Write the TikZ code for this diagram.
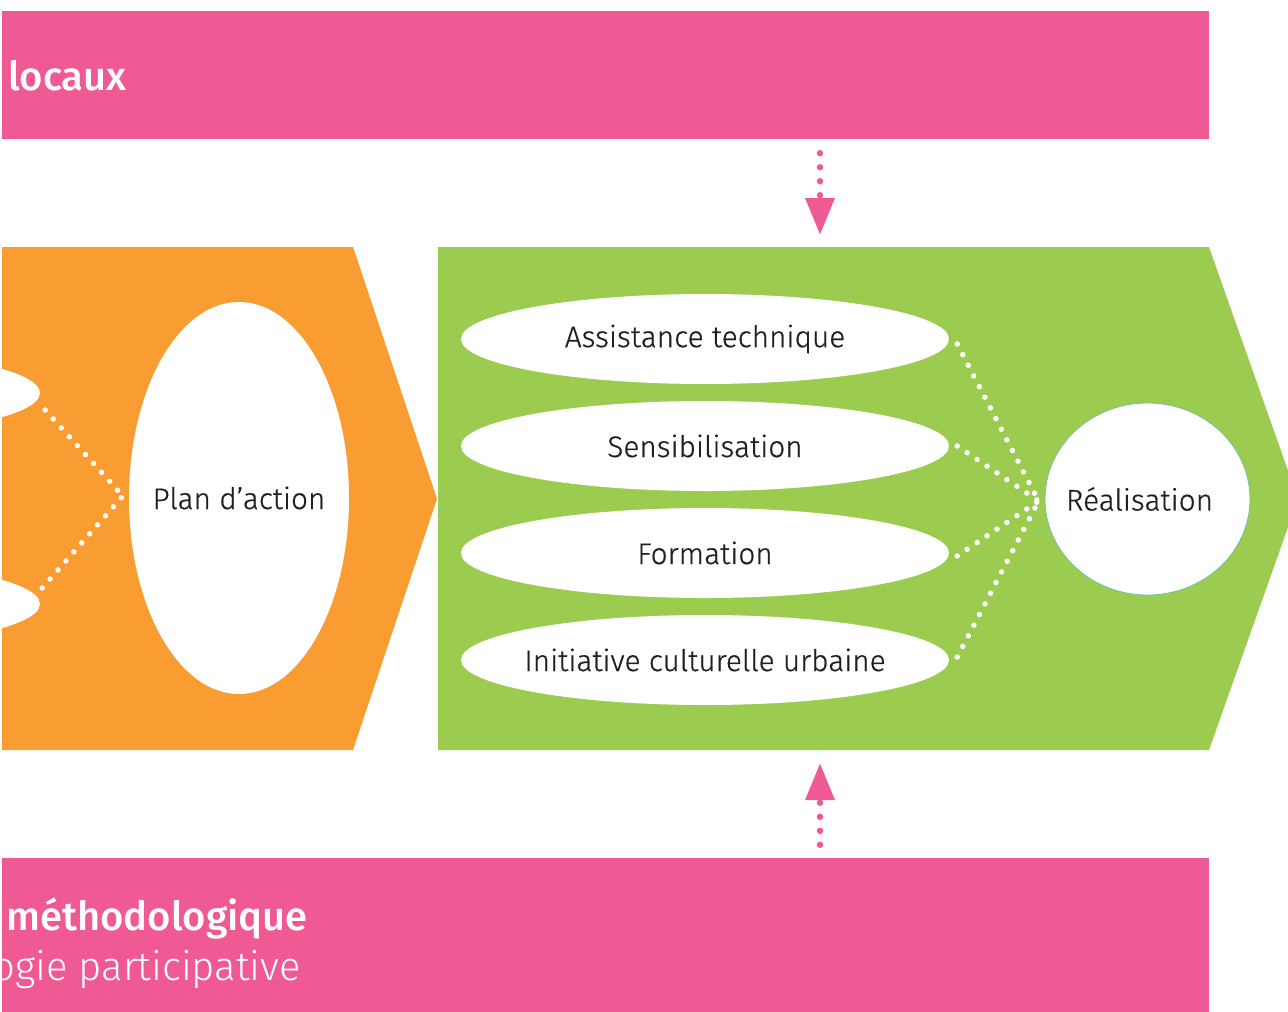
\documentclass[tikz,border=0pt]{standalone}
\usepackage{fontspec}
\setmainfont{Fira Sans}
\newfontfamily\lightfont{Fira Sans Light}[FakeBold=0.6]
\newfontfamily\thinfont{Fira Sans Light}
\newfontfamily\medfont{Fira Sans Medium}
\usetikzlibrary{shapes.geometric,arrows.meta}
\definecolor{pinkc}{HTML}{F05A94}
\definecolor{orangec}{HTML}{F99D32}
\definecolor{greenc}{HTML}{9BCB4F}
\definecolor{textc}{HTML}{231F20}
\definecolor{rimc}{HTML}{6CC3A8}
\begin{document}
\begin{tikzpicture}[x=1pt,y=-1pt,
  lab/.style={font=\lightfont\fontsize{29.8}{34}\selectfont, text=textc, inner sep=0pt},
  ovalshape/.style={ellipse, fill=white, minimum width=488pt, minimum height=90pt, inner sep=0pt},
  oval/.style={ovalshape, label={[lab]center:#1}},
  wdots/.style={draw=white, line width=5.5pt, line cap=round, dash pattern=on 0pt off 12pt},
  pdots/.style={draw=pinkc, fill=pinkc, line width=6.5pt, line cap=round, dash pattern=on 0pt off 14pt, -{Triangle[length=37pt,width=28pt]}},
  bar/.style={fill=pinkc, inner sep=0pt},
  bartext/.style={text=white, inner sep=0pt, font=\thinfont\fontsize{40}{44}\selectfont},
  barbold/.style={bartext, font=\medfont\fontsize{40}{44}\selectfont}
]
\useasboundingbox (0,0) rectangle (1288,1012);
\clip (0,0) rectangle (1288,1012);

% pink bars
\node[bar, minimum width=1207pt, minimum height=128pt] (topbar) at (605.5,75) {};
\node[bar, minimum width=1207pt, minimum height=160pt] (botbar) at (605.5,938) {};
\node[barbold, anchor=base west] (t1) at (8,90) {locaux};
\node[barbold, anchor=base west] (t2) at (6,930) {méthodologique};
\node[bartext, anchor=base east] (t3) at (301,980) {ogie participative};

% orange and green chevrons
\fill[orangec] (2,247) -- (353,247) -- (437,499) -- (353,750) -- (2,750) -- cycle;
\fill[greenc] (438,247) -- (1209,247) -- (1298,499) -- (1209,750) -- (438,750) -- cycle;

% left part
\node[ovalshape] (l1) at (-204,393) {};
\node[ovalshape] (l2) at (-204,604) {};
\node[ellipse, fill=white, minimum width=220pt, minimum height=392pt, inner sep=0pt,
      label={[lab]center:Plan d’action}] (plan) at (239,498) {};
\coordinate (cl) at ([shift={(-6,-2)}]plan.west);
\draw[wdots] ([shift={(5,17)}]l1.east) -- (cl);
\draw[wdots] ([shift={(2,-16)}]l2.east) -- (cl);

% green part
\node[oval=Assistance technique] (e1) at (705,339) {};
\node[oval=Sensibilisation] (e2) at (705,446) {};
\node[oval=Formation] (e3) at (705,553) {};
\node[oval=Initiative culturelle urbaine] (e4) at (705,660) {};
\node[ellipse, fill=white, draw=rimc, line width=0.8pt, minimum width=205pt, minimum height=192pt, inner sep=0pt,
      label={[lab, xshift=-8pt]center:Réalisation}] (real) at (1147.5,499) {};
\coordinate (cr) at ([shift={(-6,2)}]real.west);
\draw[wdots] ([shift={(8,5)}]e1.east) -- (cr);
\draw[wdots] ([shift={(8,0)}]e2.east) -- (cr);
\draw[wdots] ([shift={(8,3)}]e3.east) -- (cr);
\draw[wdots] ([shift={(8,-3)}]e4.east) -- (cr);

% pink arrows
\coordinate (gtop) at (820,247);
\coordinate (gbot) at (820,750);
\draw[pdots, shorten <=14pt, shorten >=12pt] (topbar.south -| gtop) -- (gtop);
\draw[pdots, shorten <=13pt, shorten >=13pt] (botbar.north -| gbot) -- (gbot);
\end{tikzpicture}
\end{document}
